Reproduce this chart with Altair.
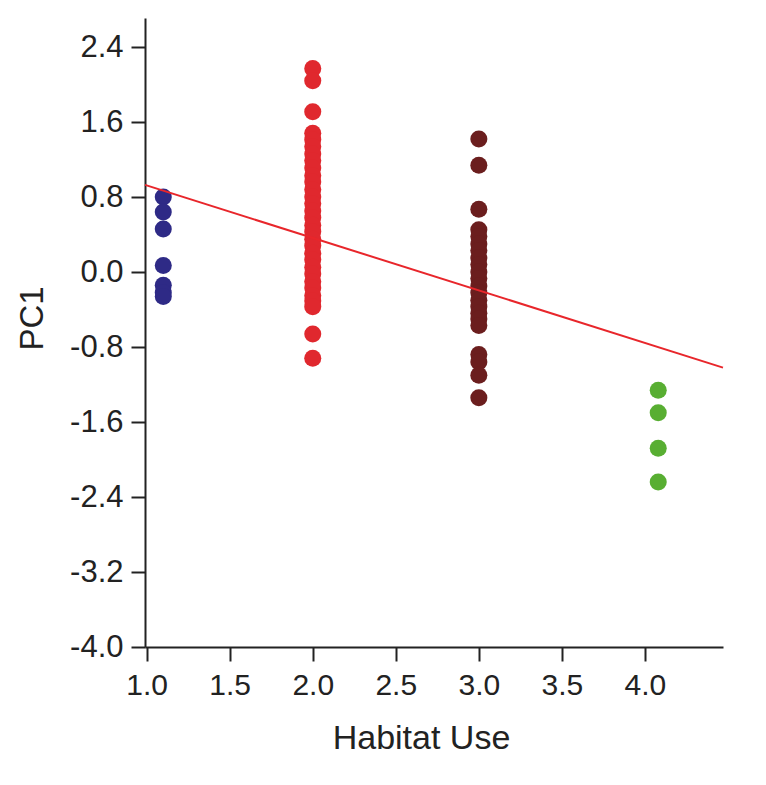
import altair as alt
import pandas as pd

# Values
blue_x = 1.10
blue_y = [0.80, 0.64, 0.46, 0.07, -0.14, -0.22, -0.26]

red_x = 2.0
red_y = [2.17, 2.04, 1.71, 1.48, 1.41, 1.34, 1.26, 1.19, 1.11, 1.03, 0.96, 0.88,
         0.80, 0.73, 0.65, 0.58, 0.50, 0.43, 0.35, 0.28, 0.20, 0.13, 0.05, -0.02,
         -0.10, -0.17, -0.25, -0.31, -0.37, -0.66, -0.92]

dark_x = 3.0
dark_y = [1.42, 1.14, 0.67, 0.45, 0.38, 0.30, 0.23, 0.15, 0.08, 0.00, -0.07,
          -0.15, -0.22, -0.30, -0.37, -0.44, -0.50, -0.57, -0.88, -0.96, -1.10, -1.34]

green_x = 4.08
green_y = [-1.26, -1.50, -1.88, -2.24]

groups = ["g1", "g2", "g3", "g4"]
group_colors = ["#2e2a86", "#e0282e", "#6b1e1e", "#58ae32"]

fit_x = [0.99, 4.47]
fit_y = [0.93, -1.02]

x_ticks = [1.0, 1.5, 2.0, 2.5, 3.0, 3.5, 4.0]
y_ticks = [2.4, 1.6, 0.8, 0.0, -0.8, -1.6, -2.4, -3.2, -4.0]

rows = []
for g, gx, gy in zip(groups, [blue_x, red_x, dark_x, green_x], [blue_y, red_y, dark_y, green_y]):
    for v in gy:
        rows.append({"group": g, "hab": gx, "pc1": v})
pts = pd.DataFrame(rows)
fit = pd.DataFrame({"hab": fit_x, "pc1": fit_y})

xscale = alt.Scale(domain=[0.99, 4.47], nice=False, zero=False)
yscale = alt.Scale(domain=[-4.0, 2.71], nice=False, zero=False)

label_expr = "replace(format(datum.value, '.1f'), '\u2212', '-')"

xaxis = alt.Axis(values=x_ticks, labelExpr=label_expr, title="Habitat Use", grid=False,
                 domainColor="#222222", domainWidth=2, tickColor="#222222", tickWidth=2,
                 tickSize=14, labelFontSize=30, labelColor="#222222", labelPadding=9,
                 labelFont="Liberation Sans", titleFont="Liberation Sans", titleFontSize=34,
                 titleFontWeight="normal", titleColor="#222222", titlePadding=21,
                 titleX=276, labelFlush=False)
yaxis = alt.Axis(values=y_ticks, labelExpr=label_expr, title="PC1", grid=False,
                 domainColor="#222222", domainWidth=2, tickColor="#222222", tickWidth=2,
                 tickSize=14, labelFontSize=31, labelColor="#222222", labelPadding=8,
                 labelFont="Liberation Sans", titleFont="Liberation Sans", titleFontSize=33,
                 titleFontWeight="normal", titleColor="#222222", titlePadding=20,
                 titleY=300, labelFlush=False)

points = alt.Chart(pts).mark_circle(size=290, opacity=1).encode(
    x=alt.X("hab:Q", scale=xscale, axis=xaxis),
    y=alt.Y("pc1:Q", scale=yscale, axis=yaxis),
    color=alt.Color("group:N", scale=alt.Scale(domain=groups, range=group_colors), legend=None),
)

line = alt.Chart(fit).mark_line(color="#e8262b", strokeWidth=2).encode(
    x=alt.X("hab:Q", scale=xscale),
    y=alt.Y("pc1:Q", scale=yscale),
)

chart = alt.layer(points, line).properties(
    width=578, height=629,
    padding={"left": 137, "top": 10, "right": 35, "bottom": 120},
    autosize=alt.AutoSizeParams(type="none"),
    background="white",
).configure_view(stroke=None)

chart.save("out.html", embed_options={"renderer": "svg", "actions": False})
